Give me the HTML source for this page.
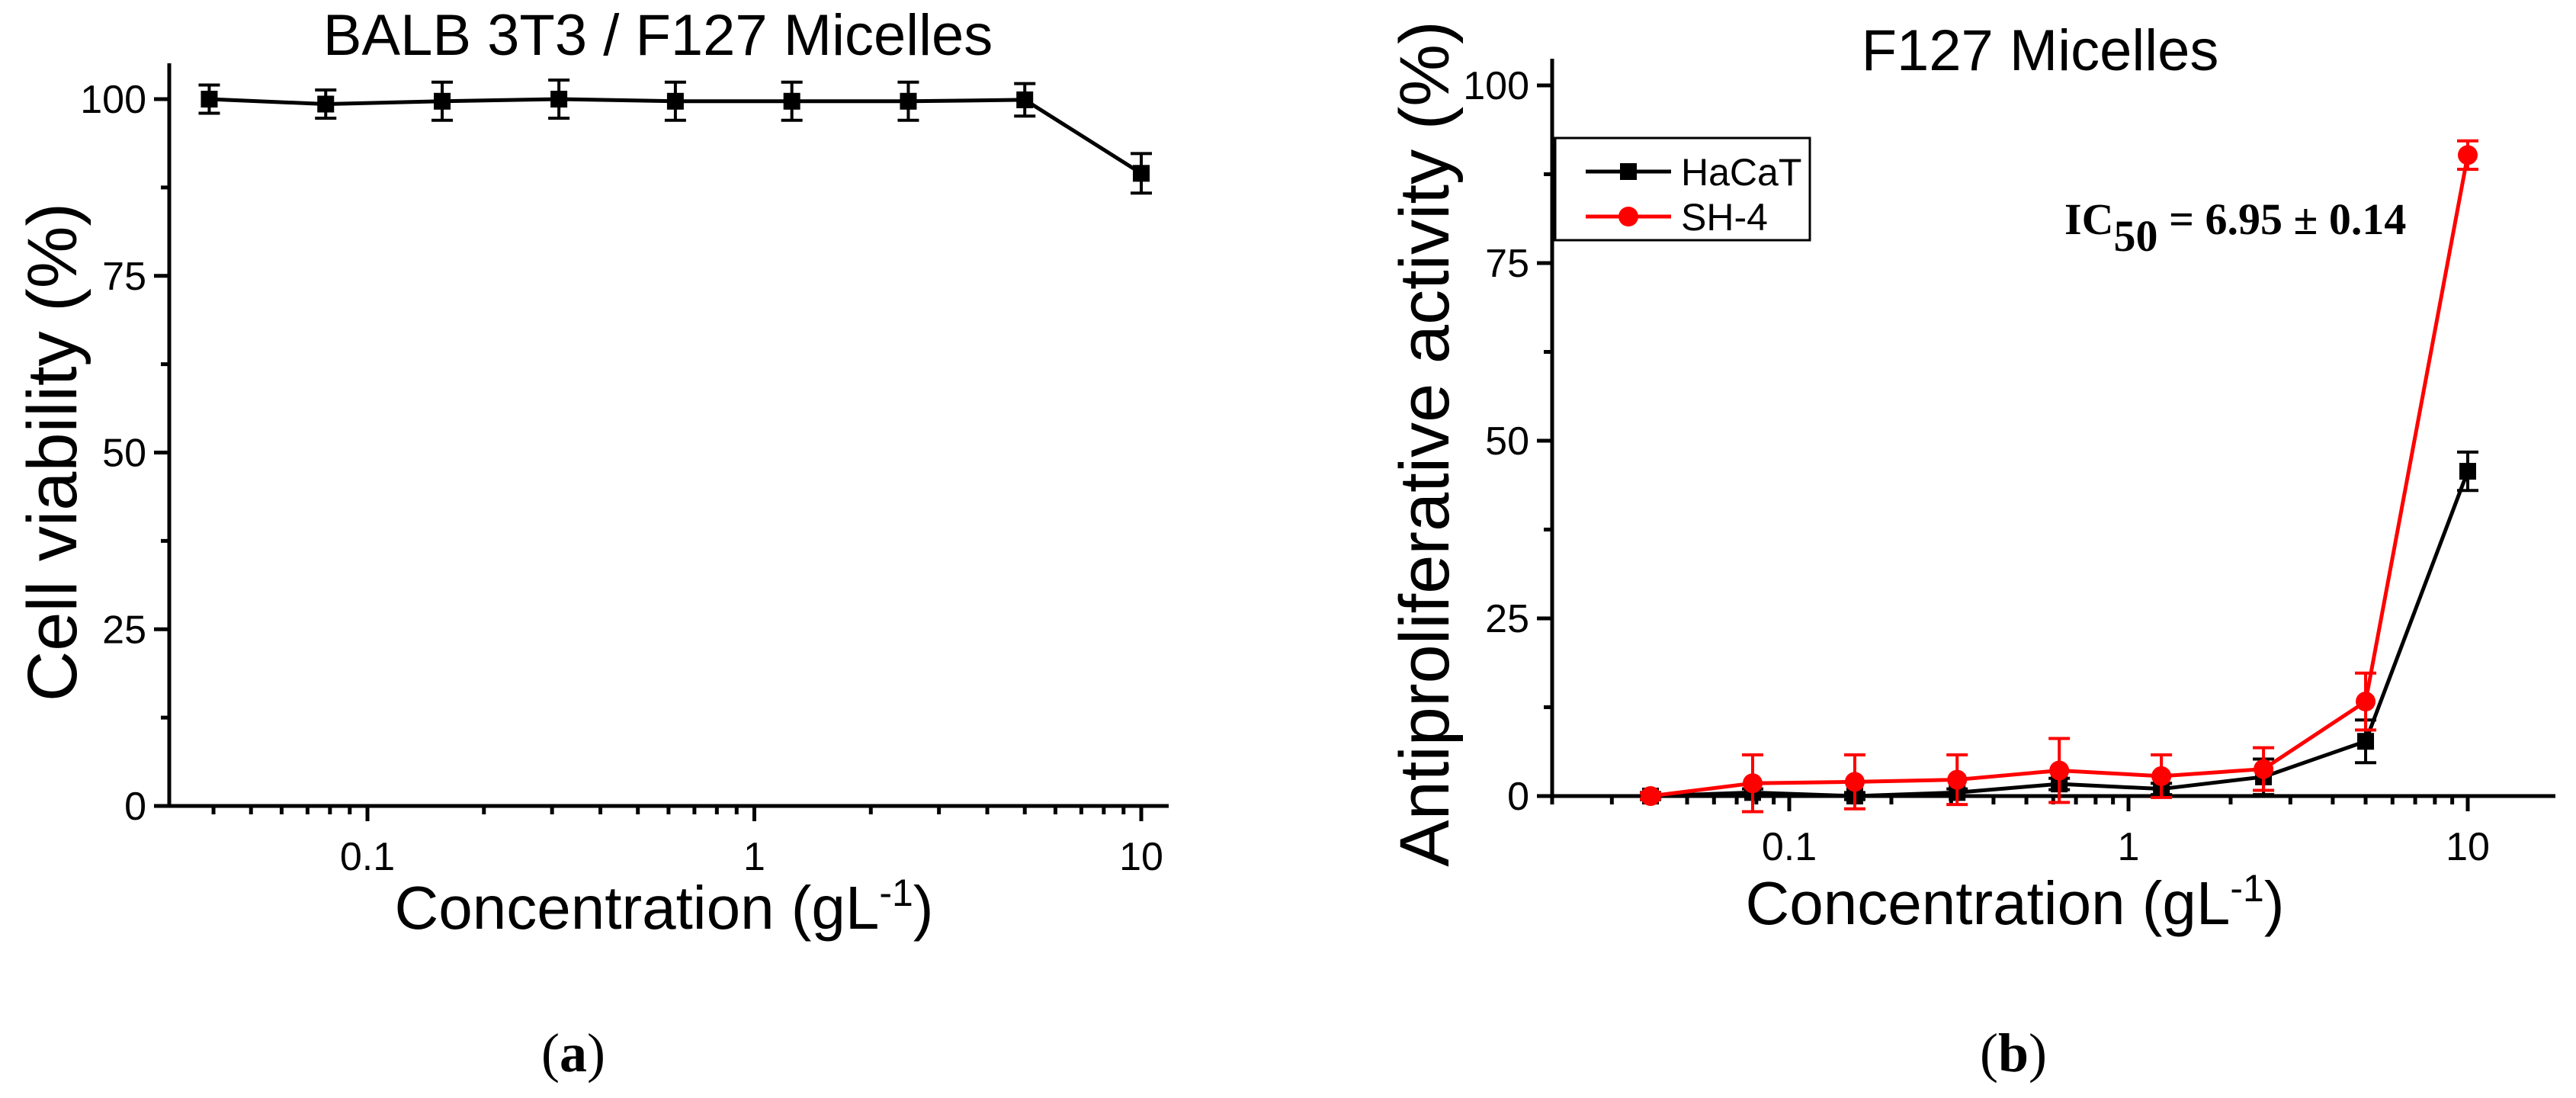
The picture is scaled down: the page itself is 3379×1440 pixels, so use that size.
<!DOCTYPE html>
<html><head><meta charset="utf-8"><style>
html,body{margin:0;padding:0;background:#fff;}
svg{display:block;font-family:"Liberation Sans",sans-serif;}
</style></head><body>
<svg id="fig" width="3379" height="1440" viewBox="0 0 3379 1440" xmlns="http://www.w3.org/2000/svg"></svg>
<script>
const concentrations = [0.039, 0.078, 0.156, 0.3125, 0.625, 1.25, 2.5, 5, 10];
const viabilityA = [100, 99.3, 99.7, 100, 99.7, 99.7, 99.7, 99.9, 89.5];
const viabilityAErr = [2, 2, 2.7, 2.7, 2.7, 2.7, 2.7, 2.3, 2.8];
const hacat = [0, 0.5, 0, 0.5, 1.7, 1, 2.7, 7.7, 45.7];
const hacatErr = [0.5, 0.5, 0.5, 0.5, 0.8, 0.8, 2.5, 3, 2.7];
const sh4 = [0, 1.8, 2.0, 2.3, 3.6, 2.8, 3.8, 13.3, 90.2];
const sh4Err = [0.4, 4, 3.8, 3.5, 4.5, 3, 3, 4, 2];
const yTicks = [0, 25, 50, 75, 100];
const yMinor = [12.5, 37.5, 62.5, 87.5];
const xTickLabels = ["0.1", "1", "10"];
const xTickValues = [0.1, 1, 10];

const NS = "http://www.w3.org/2000/svg";
const svg = document.getElementById("fig");
function mk(tag, attrs, parent, text){
  const e = document.createElementNS(NS, tag);
  for (const k in attrs) e.setAttribute(k, attrs[k]);
  if (text !== undefined) e.textContent = text;
  (parent || svg).appendChild(e);
  return e;
}

function makePanel(cfg){
  const g = mk("g", {});
  
  
  const xs = v => cfg.x01 + (Math.log10(v) + 1) * cfg.dec;
  const ys = v => cfg.y0 - v * (cfg.y0 - cfg.y100) / 100;
  const ax = mk("path", {d:`M${cfg.ax} ${cfg.top} L${cfg.ax} ${cfg.y0} L${cfg.right} ${cfg.y0}`, fill:"none", stroke:"#000", "stroke-width":5}, g);
  
  
  yTicks.forEach(t => {
    const y = ys(t);
    mk("line", {x1:cfg.ax-20, x2:cfg.ax, y1:y, y2:y, stroke:"#000", "stroke-width":5}, g);
    const lbl = mk("text", {x:cfg.ax-30, y:y+18, "text-anchor":"end", "font-size":52}, g, String(t));
    
    
  });
  yMinor.forEach(t => {
    const y = ys(t);
    mk("line", {x1:cfg.ax-11, x2:cfg.ax, y1:y, y2:y, stroke:"#000", "stroke-width":5}, g);
  });
  for (let d = -2; d <= 1; d++) {
    for (let m = 1; m <= 9; m++) {
      const v = m * Math.pow(10, d);
      const x = xs(v);
      if (x < cfg.ax - 1 || x > cfg.right) continue;
      const len = m === 1 ? 20 : 11;
      mk("line", {x1:x, x2:x, y1:cfg.y0, y2:cfg.y0+len, stroke:"#000", "stroke-width":5}, g);
    }
  }
  xTickValues.forEach((v, i) => {
    const lbl = mk("text", {x:xs(v), y:cfg.y0+84, "text-anchor":"middle", "font-size":52}, g, xTickLabels[i]);
    
    
  });
  const t = mk("text", {x:cfg.titleX, y:cfg.titleY, "text-anchor":"middle", "font-size":76}, g, cfg.title);
  
  
  const xt = mk("text", {x:cfg.xtX, y:cfg.xtY, "text-anchor":"middle", "font-size":80}, g);
  
  
  mk("tspan", {}, xt, "Concentration (gL");
  mk("tspan", {dy:-30, "font-size":50}, xt, "-1");
  mk("tspan", {dy:30}, xt, ")");
  const yt = mk("text", {x:0, y:0, "text-anchor":"middle", "font-size":92, transform:`translate(${cfg.ytX},${cfg.ytY}) rotate(-90)`}, g, cfg.ytitle);
  
  
  const cap = mk("text", {x:cfg.capX, y:1405, "text-anchor":"middle", "font-size":72, "font-family":"Liberation Serif, serif"}, g);
  
  
  mk("tspan", {}, cap, "(");
  mk("tspan", {"font-weight":"bold"}, cap, cfg.cap);
  mk("tspan", {}, cap, ")");
  return {g, xs, ys};
}

function drawSeries(p, vals, errs, color, marker, name){
  const sg = mk("g", {}, p.g);
  
  
  vals.forEach((v, i) => {
    const x = p.xs(concentrations[i]);
    const y1 = p.ys(v + errs[i]), y2 = p.ys(v - errs[i]);
    const eb = mk("path", {d:`M${x} ${y1} L${x} ${y2} M${x-14} ${y1} L${x+14} ${y1} M${x-14} ${y2} L${x+14} ${y2}`, stroke:color, "stroke-width":4, fill:"none"}, sg);
    
    
  });
  const pts = vals.map((v, i) => `${p.xs(concentrations[i])},${p.ys(v)}`).join(" ");
  const line = mk("polyline", {points:pts, fill:"none", stroke:color, "stroke-width":5}, sg);
  
  
  vals.forEach((v, i) => {
    const x = p.xs(concentrations[i]), y = p.ys(v);
    let m;
    if (marker === "square") m = mk("rect", {x:x-11, y:y-11, width:22, height:22, fill:color}, sg);
    else m = mk("circle", {cx:x, cy:y, r:13, fill:color}, sg);
    
    
  });
}

const pa = makePanel({name:"panel-a", x01:482, dec:507.5, ax:222, right:1533, top:83, y0:1057, y100:130,
  title:"BALB 3T3 / F127 Micelles", titleX:863, titleY:72, xtX:871, xtY:1218, ytitle:"Cell viability (%)", ytX:100, ytY:593, capX:752, cap:"a"});
drawSeries(pa, viabilityA, viabilityAErr, "#000", "square", "series-viability");

const pb = makePanel({name:"panel-b", x01:2347, dec:445, ax:2036, right:3352, top:77, y0:1044, y100:112,
  title:"F127 Micelles", titleX:2676, titleY:92, xtX:2643, xtY:1212, ytitle:"Antiproliferative activity (%)", ytX:1900, ytY:582, capX:2641, cap:"b"});
drawSeries(pb, hacat, hacatErr, "#000", "square", "series-hacat");
drawSeries(pb, sh4, sh4Err, "#ff0000", "circle", "series-sh4");

const lg = mk("g", {});


mk("rect", {x:2040, y:181, width:334, height:134, fill:"#fff", stroke:"#000", "stroke-width":3}, lg);
const le1 = mk("g", {}, lg);


mk("line", {x1:2080, x2:2192, y1:225, y2:225, stroke:"#000", "stroke-width":5}, le1);
mk("rect", {x:2125, y:214, width:22, height:22, fill:"#000"}, le1);
mk("text", {x:2205, y:243, "font-size":50}, le1, "HaCaT");
const le2 = mk("g", {}, lg);


mk("line", {x1:2080, x2:2192, y1:284, y2:284, stroke:"#ff0000", "stroke-width":5}, le2);
mk("circle", {cx:2136, cy:284, r:13, fill:"#ff0000"}, le2);
mk("text", {x:2205, y:302, "font-size":50}, le2, "SH-4");

const ic = mk("text", {x:2708, y:307, "font-size":58, "font-weight":"bold", "font-family":"Liberation Serif, serif"});


mk("tspan", {}, ic, "IC");
mk("tspan", {dy:22}, ic, "50");
mk("tspan", {dy:-22}, ic, " = 6.95 \u00b1 0.14");
</script>
</body></html>
